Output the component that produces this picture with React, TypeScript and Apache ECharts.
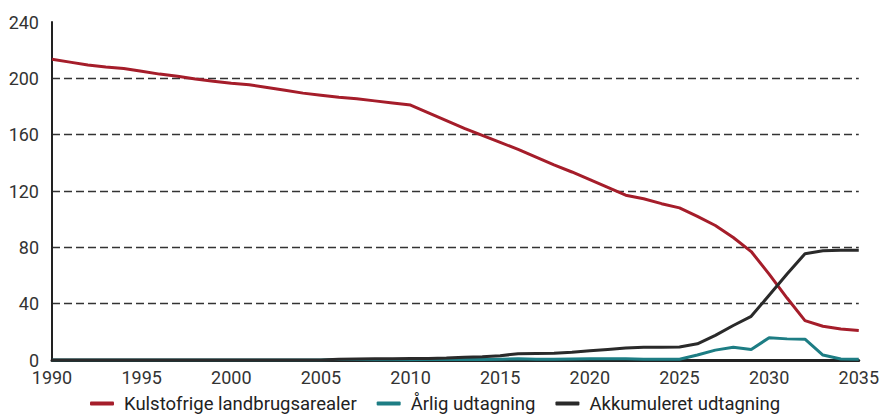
import React, { useEffect, useRef } from "react";
import * as echarts from "echarts";

const years: number[] = [];
for (let y = 1990; y <= 2035; y++) years.push(y);

const kulstofrige = [
  213.5, 211.5, 209.5, 208, 207, 205, 203, 201.5, 199.5, 198,
  196.5, 195.5, 193.5, 191.5, 189.5, 188, 186.5, 185.5, 184, 182.5,
  181, 175.5, 170, 164.5, 159.5, 154.5, 149.5, 144, 138.5, 133.5,
  128, 122.5, 117, 114.5, 111, 108, 102, 95.5, 87, 77,
  61, 44, 28, 24, 22, 21,
];

const aarlig = [
  0, 0, 0, 0, 0, 0, 0, 0, 0, 0,
  0, 0, 0, 0, 0, 0, 0.4, 0.3, 0.2, 0.2,
  0.2, 0.3, 0.4, 0.4, 0.4, 0.6, 0.8, 0.6, 0.6, 0.7,
  0.8, 0.8, 0.8, 0.6, 0.5, 0.5, 3.5, 7, 9, 7.5,
  15.8, 15, 14.8, 3.5, 0.7, 0.5,
];

const akkumuleret = [
  0, 0, 0, 0, 0, 0, 0, 0, 0, 0,
  0, 0, 0, 0, 0, 0, 0.5, 0.7, 0.8, 0.9,
  1, 1.1, 1.5, 2, 2.3, 3, 4.5, 4.7, 4.8, 5.5,
  6.5, 7.5, 8.5, 9, 9, 9.2, 11.5, 17.5, 24.5, 31,
  46, 61, 75.5, 77.5, 78, 78,
];

const seriesNames = ["Kulstofrige landbrugsarealer", "Årlig udtagning", "Akkumuleret udtagning"];
const seriesColors = ["#a51d2a", "#1d7d84", "#2a2a2a"];
const yTicks = { min: 0, max: 240, interval: 40 };
const xTicks = { min: 1990, max: 2035, interval: 5 };

export default function App() {
  const ref = useRef<HTMLDivElement>(null);
  useEffect(() => {
    document.body.style.margin = "0";
    const chart = echarts.init(ref.current!, null, { renderer: "svg" });
    const datasets = [kulstofrige, aarlig, akkumuleret];
    chart.setOption({
      animation: false,
      backgroundColor: "#ffffff",
      textStyle: { fontFamily: "Roboto" },
      grid: { left: 52, right: 20, top: 22, bottom: 55, containLabel: false },
      legend: {
        top: 394,
        left: 90,
        padding: 0,
        itemWidth: 24,
        itemHeight: 4,
        itemGap: 20,
        icon: "roundRect",
        textStyle: { fontSize: 18.5, color: "#222", fontFamily: "Roboto", padding: [0, 0, 0, 5] },
        data: seriesNames,
      },
      xAxis: {
        type: "value",
        min: xTicks.min,
        max: xTicks.max,
        interval: xTicks.interval,
        axisLine: { show: true, onZero: false, lineStyle: { color: "#222", width: 3 } },
        axisTick: { show: false },
        splitLine: { show: false },
        axisLabel: {
          fontSize: 18,
          color: "#333",
          margin: 10,
          lineHeight: 15,
          formatter: (v: number) => String(v),
        },
      },
      yAxis: {
        type: "value",
        min: yTicks.min,
        max: yTicks.max,
        interval: yTicks.interval,
        axisLine: { show: true, lineStyle: { color: "#222", width: 2 } },
        axisTick: { show: false },
        axisLabel: { fontSize: 18, color: "#333", margin: 13, lineHeight: 15 },
        splitLine: {
          show: true,
          showMinLine: false,
          showMaxLine: false,
          lineStyle: { color: "#333", type: [8, 4], width: 1.3 },
        },
      },
      series: seriesNames.map((name, i) => ({
        name,
        type: "line",
        symbol: "none",
        color: seriesColors[i],
        lineStyle: { color: seriesColors[i], width: 3 },
        z: i === 0 ? 3 : i === 1 ? 2 : 4,
        data: years.map((y, k) => [y, datasets[i][k]]),
      })),
    });
    return () => chart.dispose();
  }, []);
  return <div ref={ref} style={{ width: 882, height: 415 }} />;
}
